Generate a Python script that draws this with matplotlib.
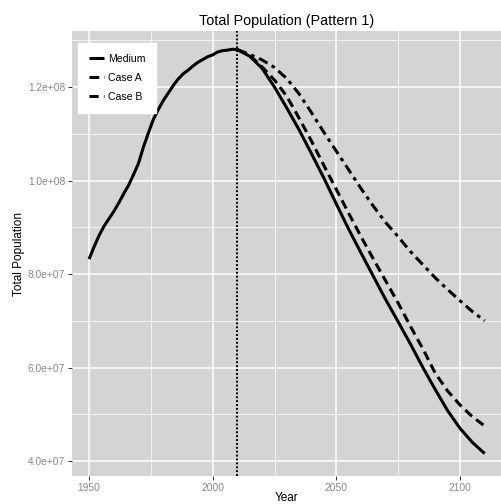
import matplotlib
matplotlib.use('Agg')
import matplotlib.pyplot as plt
import numpy as np
from matplotlib.ticker import FixedLocator, FormatStrFormatter

# population in millions
years = [1950, 1952, 1954, 1956, 1958, 1960, 1962, 1964, 1966, 1968, 1970,
         1972, 1974, 1976, 1978, 1980, 1982, 1984, 1986, 1988, 1990, 1992,
         1994, 1996, 1998, 2000, 2002, 2004, 2006, 2008, 2010,
         2015, 2020, 2025, 2030, 2035, 2040, 2045, 2050, 2055,
         2060, 2065, 2070, 2075, 2080, 2085, 2090, 2095, 2100, 2105, 2110]
medium = [83.2, 85.8, 88.2, 90.2, 91.8, 93.4, 95.2, 97.2, 99.0, 101.3,
          103.7, 107.2, 110.2, 113.1, 115.2, 117.1, 118.7, 120.3, 121.7,
          122.8, 123.6, 124.5, 125.3, 125.9, 126.5, 126.9, 127.5, 127.8,
          127.9, 128.1, 128.0,
          126.6, 124.0, 120.0, 115.5, 110.8, 105.7, 100.5, 95.0, 89.6, 84.5,
          79.5, 74.5, 69.8, 65.0, 60.0, 55.3, 50.8, 47.0, 44.0, 41.6]

proj_years = [2010, 2015, 2020, 2025, 2030, 2035, 2040, 2045, 2050, 2055,
              2060, 2065, 2070, 2075, 2080, 2085, 2090, 2095, 2100, 2105, 2110]
case_a = [128.0, 127.0, 125.8, 124.2, 121.8, 118.5, 114.5, 110.3, 106.3,
          102.3, 98.3, 94.5, 91.0, 88.0, 84.8, 82.0, 79.2, 76.7, 74.3, 72.0,
          70.0]
case_b = [128.0, 126.8, 124.3, 121.5, 118.0, 113.3, 108.4, 103.2, 98.1, 93.0,
          88.0, 83.2, 78.5, 73.8, 68.8, 64.0, 58.8, 55.0, 52.0, 49.5, 47.5]

x_ticks = [1950, 2000, 2050, 2100]
y_ticks = [4.0e7, 6.0e7, 8.0e7, 1.0e8, 1.2e8]
base_year = 2010

plt.rcParams['font.family'] = ['Liberation Sans', 'DejaVu Sans']

fig = plt.figure(figsize=(5.02, 5.04), dpi=100)
ax = fig.add_axes([72 / 502, 28 / 504, 430 / 502, 445 / 504])
ax.set_facecolor('#d4d4d4')
for s in ax.spines.values():
    s.set_visible(False)

ax.set_xlim(1943.1, 2117.0)
ax.set_ylim(36.8e6, 132.0e6)

ax.xaxis.set_major_locator(FixedLocator(x_ticks))
ax.xaxis.set_minor_locator(FixedLocator([1975, 2025, 2075]))
ax.yaxis.set_major_locator(FixedLocator(y_ticks))
ax.yaxis.set_minor_locator(FixedLocator([5e7, 7e7, 9e7, 1.1e8, 1.3e8]))
ax.yaxis.set_major_formatter(FormatStrFormatter('%.1e'))
ax.grid(which='major', color='white', lw=1.1)
ax.grid(which='minor', color='white', lw=0.5)
ax.set_axisbelow(True)
ax.tick_params(which='major', length=3, width=0.7, color='#333333',
               labelcolor='#8a8a8a', labelsize=7.4, pad=2)
ax.tick_params(which='minor', length=0)

ax.axvline(base_year, color='black', lw=1.4, ls=(0, (1, 1)))

l1, = ax.plot(years, np.array(medium) * 1e6, color='black', lw=2.2,
              solid_capstyle='butt', solid_joinstyle='round')
l2, = ax.plot(proj_years, np.array(case_a) * 1e6, color='black', lw=2.2,
              ls=(0, (3.2, 1.6, 1.2, 1.6)), dash_capstyle='butt')
l3, = ax.plot(proj_years, np.array(case_b) * 1e6, color='black', lw=2.2,
              ls=(0, (3.0, 1.7)), dash_capstyle='butt')

ax.set_title('Total Population (Pattern 1)', fontsize=10.4, pad=4)
ax.set_xlabel('Year', fontsize=8.5, labelpad=-1)
ax.set_ylabel('Total Population', fontsize=8.5, labelpad=2)

leg = ax.legend([l1, l2, l3], ['Medium', 'Case A', 'Case B'],
                loc='upper left', bbox_to_anchor=(0.014, 0.972),
                fontsize=7.6, handlelength=1.5, handletextpad=0.35,
                labelspacing=0.85, borderpad=1.0, borderaxespad=0,
                fancybox=False, framealpha=1)
leg.get_frame().set_edgecolor('white')
leg.get_frame().set_facecolor('white')

fig.savefig('out.png', dpi=100)
